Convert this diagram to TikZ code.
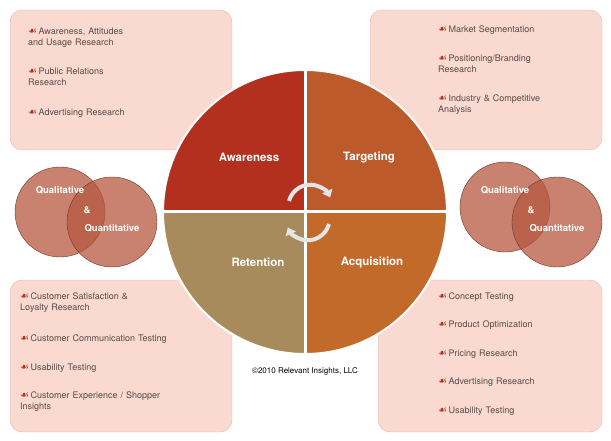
\documentclass[tikz,border=0pt]{standalone}
\usepackage{fontspec}
\setmainfont{TeX Gyre Heros}
\newfontfamily\symfont{DejaVu Sans}
\usetikzlibrary{arrows.meta}
\definecolor{boxpink}{HTML}{F9D9D0}
\definecolor{boxedge}{HTML}{E8B8AC}
\definecolor{awarecol}{HTML}{B3301F}
\definecolor{targetcol}{HTML}{BD5A2C}
\definecolor{retaincol}{HTML}{A78B5C}
\definecolor{acquirecol}{HTML}{C26A2A}
\definecolor{venncol}{HTML}{B5583F}
\definecolor{itemtext}{HTML}{5A4A48}
\newcommand{\bul}{{\symfont\color{awarecol}\fontsize{10}{10}\selectfont ☙}\,}
\tikzset{
  infobox/.style={draw=boxedge, fill=boxpink, rounded corners=12pt},
  item/.style={anchor=north west, align=left, text=itemtext, font=\fontsize{9}{10.5}\selectfont, text width=195pt, inner sep=0pt},
  quad/.style={draw=white, line width=3pt},
  quadlabel/.style={text=white, font=\bfseries\fontsize{11.5}{13}\selectfont},
  vennlabel/.style={text=white, font=\bfseries\fontsize{9.5}{11}\selectfont},
  venn/.style={fill=venncol, fill opacity=0.75, draw=venncol!60!black},
  cyclearrow/.style={gray!20, line width=4pt, -{Triangle[length=7pt, width=11pt]}}
}
\begin{document}
\begin{tikzpicture}[x=1pt, y=-1pt]
	\useasboundingbox (0,0) rectangle (611,441);
	
	% corner boxes
	\draw[infobox] (10,10) rectangle (232,150);
	\draw[infobox] (370,10) rectangle (602,150);
	\draw[infobox] (10,280) rectangle (232,432);
	\draw[infobox] (378,280) rectangle (602,432);
	
	% top left
	\node[item] (tl1) at (28,28) {\bul Awareness, Attitudes\\ and Usage Research};
	\node[item] (tl2) at (28,68) {\bul Public Relations\\ Research};
	\node[item] (tl3) at (28,109) {\bul Advertising Research};
	% top right
	\node[item] (tr1) at (438,26) {\bul Market Segmentation};
	\node[item] (tr2) at (438,55) {\bul Positioning/Branding\\ Research};
	\node[item] (tr3) at (438,95) {\bul Industry \& Competitive\\ Analysis};
	% bottom left
	\node[item] (bl1) at (20,293) {\bul Customer Satisfaction \&\\ Loyalty Research};
	\node[item] (bl2) at (20,335) {\bul Customer Communication Testing};
	\node[item] (bl3) at (20,364) {\bul Usability Testing};
	\node[item] (bl4) at (20,392) {\bul Customer Experience / Shopper\\ Insights};
	% bottom right
	\node[item] (br1) at (438,293) {\bul Concept Testing};
	\node[item] (br2) at (438,321) {\bul Product Optimization};
	\node[item] (br3) at (438,350) {\bul Pricing Research};
	\node[item] (br4) at (438,378) {\bul Advertising Research};
	\node[item] (br5) at (438,407) {\bul Usability Testing};
	
	% the wheel (y runs down, so angles turn clockwise)
	\coordinate (c) at (305,212);
	\fill[awarecol] (c) -- (163,212) arc[start angle=180, end angle=270, radius=142] -- cycle;
	\fill[targetcol] (c) -- (305,70) arc[start angle=270, end angle=360, radius=142] -- cycle;
	\fill[acquirecol] (c) -- (447,212) arc[start angle=0, end angle=90, radius=142] -- cycle;
	\fill[retaincol] (c) -- (305,354) arc[start angle=90, end angle=180, radius=142] -- cycle;
	\draw[white, line width=2pt] (c) circle[radius=142];
	\draw[quad] (163,212) -- (447,212);
	\draw[quad] (305,70) -- (305,354);
	
	\node[quadlabel] (aware) at (249,157) {Awareness};
	\node[quadlabel] (target) at (369,157) {Targeting};
	\node[quadlabel] (retain) at (258,262) {Retention};
	\node[quadlabel] (acquire) at (372,262) {Acquisition};
	
	% cycle arrows
	\draw[cyclearrow] (289,201) arc[start angle=195, end angle=335, radius=22];
	\draw[cyclearrow] (329,224) arc[start angle=15, end angle=155, radius=22];
	
	% venns
	\draw[venn] (60,212) circle[radius=45];
	\draw[venn] (112,222) circle[radius=45];
	\draw[venn] (505,207) circle[radius=45];
	\draw[venn] (557,222) circle[radius=45];
	\node[vennlabel] (ql) at (60,190) {Qualitative};
	\node[vennlabel] (al) at (87,210) {\&};
	\node[vennlabel] (nl) at (112,228) {Quantitative};
	\node[vennlabel] (qr) at (505,190) {Qualitative};
	\node[vennlabel] (ar) at (531,210) {\&};
	\node[vennlabel] (nr) at (557,228) {Quantitative};
	
	\node[font=\fontsize{8}{10}\selectfont] (copy) at (305,371) {\textcopyright2010 Relevant Insights, LLC};
\end{tikzpicture}
\end{document}
